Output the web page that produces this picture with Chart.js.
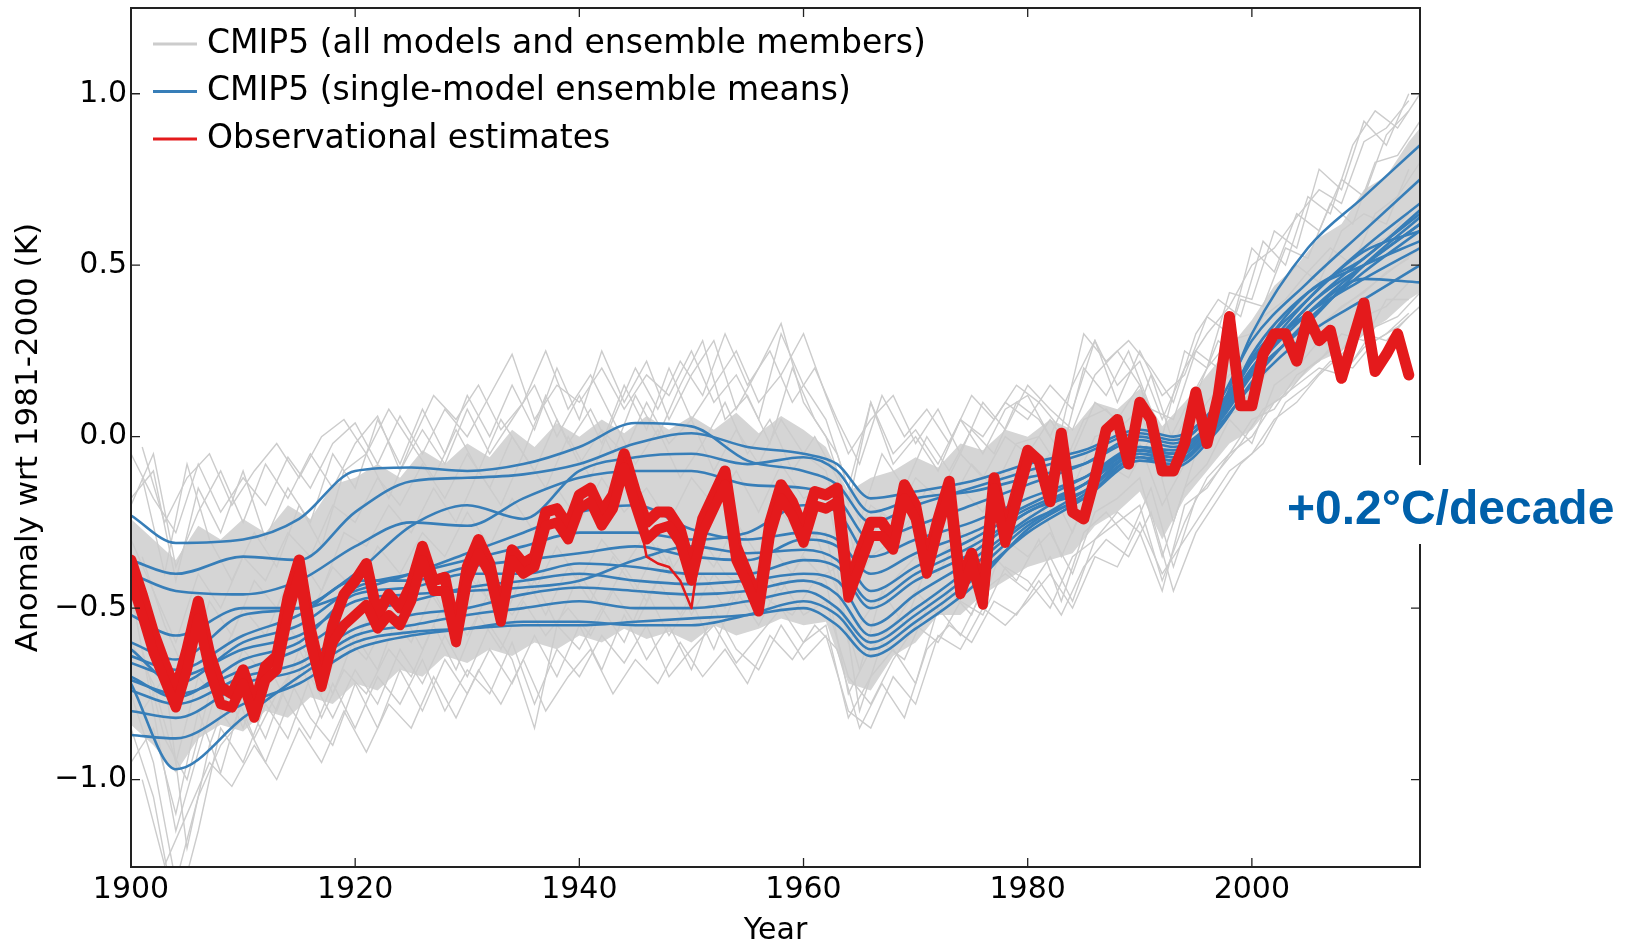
<!DOCTYPE html>
<html>
<head>
<meta charset="utf-8">
<title>CMIP5 models vs observations</title>
<script src="https://cdn.jsdelivr.net/npm/chart.js@4.4.1/dist/chart.umd.min.js"></script>
<style>
  html, body { margin: 0; padding: 0; background: #fff; }
  canvas { display: block; }
</style>
</head>
<body>
<canvas id="anomalyChart" width="1627" height="942"></canvas>
<script>
// observational estimates, annual
const obsYears = [
  1900,1901,1902,1903,1904,1905,1906,1907,1908,1909,
  1910,1911,1912,1913,1914,1915,1916,1917,1918,1919,
  1920,1921,1922,1923,1924,1925,1926,1927,1928,1929,
  1930,1931,1932,1933,1934,1935,1936,1937,1938,1939,
  1940,1941,1942,1943,1944,1945,1946,1947,1948,1949,
  1950,1951,1952,1953,1954,1955,1956,1957,1958,1959,
  1960,1961,1962,1963,1964,1965,1966,1967,1968,1969,
  1970,1971,1972,1973,1974,1975,1976,1977,1978,1979,
  1980,1981,1982,1983,1984,1985,1986,1987,1988,1989,
  1990,1991,1992,1993,1994,1995,1996,1997,1998,1999,
  2000,2001,2002,2003,2004,2005,2006,2007,2008,2009,
  2010,2011,2012,2013,2014
];
const obsMain = [
  -0.36,-0.46,-0.57,-0.66,-0.74,-0.62,-0.48,-0.63,-0.73,-0.75,
  -0.68,-0.78,-0.67,-0.64,-0.47,-0.36,-0.56,-0.70,-0.55,-0.46,
  -0.42,-0.37,-0.52,-0.46,-0.50,-0.43,-0.32,-0.42,-0.41,-0.57,
  -0.38,-0.30,-0.37,-0.52,-0.33,-0.37,-0.35,-0.22,-0.21,-0.26,
  -0.17,-0.15,-0.22,-0.17,-0.05,-0.16,-0.25,-0.22,-0.22,-0.27,
  -0.39,-0.24,-0.17,-0.10,-0.32,-0.40,-0.48,-0.25,-0.14,-0.19,
  -0.27,-0.16,-0.17,-0.15,-0.44,-0.34,-0.25,-0.25,-0.30,-0.14,
  -0.20,-0.37,-0.24,-0.13,-0.43,-0.34,-0.46,-0.12,-0.28,-0.16,
  -0.04,-0.07,-0.19,0.01,-0.22,-0.24,-0.12,0.02,0.05,-0.08,
  0.10,0.05,-0.10,-0.10,-0.02,0.13,-0.02,0.12,0.35,0.09,
  0.09,0.24,0.30,0.30,0.22,0.35,0.28,0.31,0.17,0.28,
  0.39,0.19,0.24,0.30,0.18
];
const obsLowYears = [
  1900,1901,1902,1903,1904,1905,1906,1907,1908,1909,
  1910,1911,1912,1913,1914,1915,1916,1917,1918,1919,
  1920,1921,1922,1923,1924,1925,1926,1927,1928,1929,
  1930,1931,1932,1933,1934,1935,1936,1937,1938,1939,
  1940,1941,1942,1943,1944,1945,1946,1947,1948,1949,
  1950,1951,1952,1953,1954,1955,1956,1957,1958,1959,
  1960,1961,1962,1963,1964,1965,1966,1967,1968,1969,
  1970,1971,1972,1973,1974,1975,1976,1977,1978,1979,
  1980
];
const obsLow = [
  -0.42,-0.52,-0.63,-0.71,-0.79,-0.68,-0.53,-0.68,-0.78,-0.79,
  -0.72,-0.82,-0.71,-0.68,-0.52,-0.40,-0.60,-0.73,-0.60,-0.55,
  -0.52,-0.49,-0.56,-0.52,-0.55,-0.48,-0.36,-0.45,-0.45,-0.60,
  -0.42,-0.34,-0.40,-0.54,-0.36,-0.40,-0.38,-0.26,-0.25,-0.30,
  -0.21,-0.19,-0.26,-0.21,-0.09,-0.20,-0.30,-0.27,-0.26,-0.31,
  -0.42,-0.28,-0.21,-0.14,-0.36,-0.43,-0.51,-0.29,-0.18,-0.23,
  -0.31,-0.20,-0.21,-0.19,-0.47,-0.38,-0.29,-0.29,-0.33,-0.18,
  -0.24,-0.40,-0.27,-0.16,-0.46,-0.37,-0.49,-0.15,-0.31,-0.19,
  -0.07
];
const obsSplitYears = [1944,1945,1946,1947,1948,1949,1950,1951];
const obsSplit = [-0.06,-0.18,-0.35,-0.37,-0.38,-0.42,-0.50,-0.27];

// single-model ensemble means, read at these years
const meanYears = [1900,1904,1910,1915,1920,1925,1930,1935,1940,1945,1950,1955,1960,1963,1966,1970,1975,1980,1985,1990,1993,1997,2000,2005,2010,2015];
const modelMeans = [
  [-0.23,-0.31,-0.30,-0.24,-0.10,-0.09,-0.10,-0.08,-0.03,0.04,0.03,-0.07,-0.10,-0.14,-0.25,-0.20,-0.15,-0.10,-0.05,0.01,-0.01,0.08,0.22,0.36,0.46,0.55],
  [-0.36,-0.40,-0.35,-0.36,-0.22,-0.13,-0.12,-0.11,-0.08,-0.02,0.01,-0.03,-0.05,-0.08,-0.18,-0.16,-0.13,-0.08,-0.04,0.02,0.00,0.10,0.28,0.45,0.60,0.75],
  [-0.60,-0.65,-0.52,-0.50,-0.40,-0.26,-0.20,-0.24,-0.10,-0.06,-0.05,-0.08,-0.06,-0.10,-0.22,-0.18,-0.16,-0.12,-0.08,-0.01,-0.03,0.06,0.18,0.33,0.50,0.64],
  [-0.62,-0.72,-0.60,-0.55,-0.44,-0.40,-0.36,-0.32,-0.28,-0.28,-0.30,-0.28,-0.20,-0.22,-0.35,-0.30,-0.25,-0.18,-0.12,-0.04,-0.06,0.05,0.20,0.40,0.55,0.68],
  [-0.64,-0.68,-0.58,-0.52,-0.42,-0.42,-0.38,-0.36,-0.34,-0.32,-0.35,-0.36,-0.30,-0.32,-0.45,-0.38,-0.30,-0.21,-0.14,-0.05,-0.07,0.04,0.18,0.38,0.50,0.62],
  [-0.70,-0.76,-0.65,-0.60,-0.46,-0.44,-0.40,-0.40,-0.37,-0.38,-0.40,-0.40,-0.36,-0.38,-0.50,-0.42,-0.34,-0.22,-0.16,-0.06,-0.09,0.02,0.16,0.34,0.48,0.60],
  [-0.71,-0.75,-0.68,-0.62,-0.52,-0.48,-0.44,-0.42,-0.40,-0.42,-0.43,-0.42,-0.40,-0.42,-0.55,-0.46,-0.36,-0.24,-0.14,-0.04,-0.05,0.06,0.22,0.42,0.52,0.66],
  [-0.74,-0.78,-0.70,-0.66,-0.56,-0.52,-0.50,-0.46,-0.44,-0.45,-0.46,-0.45,-0.42,-0.46,-0.58,-0.50,-0.38,-0.25,-0.18,-0.07,-0.08,0.03,0.15,0.30,0.40,0.50],
  [-0.80,-0.82,-0.72,-0.68,-0.58,-0.55,-0.52,-0.50,-0.48,-0.50,-0.50,-0.48,-0.45,-0.50,-0.60,-0.52,-0.40,-0.26,-0.16,-0.05,-0.06,0.05,0.19,0.36,0.50,0.62],
  [-0.87,-0.88,-0.78,-0.72,-0.62,-0.58,-0.56,-0.54,-0.54,-0.55,-0.55,-0.52,-0.48,-0.52,-0.62,-0.54,-0.42,-0.28,-0.18,-0.06,-0.07,0.04,0.24,0.42,0.50,0.57],
  [-0.72,-0.97,-0.82,-0.70,-0.60,-0.57,-0.56,-0.55,-0.55,-0.54,-0.53,-0.52,-0.50,-0.55,-0.64,-0.56,-0.44,-0.27,-0.17,-0.04,-0.05,0.07,0.30,0.55,0.70,0.85],
  [-0.52,-0.58,-0.50,-0.50,-0.45,-0.40,-0.34,-0.28,-0.22,-0.20,-0.27,-0.30,-0.28,-0.30,-0.40,-0.34,-0.28,-0.20,-0.12,-0.03,-0.05,0.06,0.20,0.38,0.52,0.65],
  [-0.40,-0.45,-0.46,-0.42,-0.32,-0.25,-0.26,-0.18,-0.12,-0.10,-0.10,-0.14,-0.15,-0.18,-0.30,-0.26,-0.20,-0.14,-0.08,0.00,-0.02,0.09,0.22,0.36,0.46,0.45],
  [-0.66,-0.70,-0.62,-0.58,-0.48,-0.46,-0.45,-0.44,-0.42,-0.36,-0.32,-0.34,-0.33,-0.36,-0.48,-0.40,-0.32,-0.22,-0.14,-0.03,-0.04,0.07,0.23,0.40,0.54,0.60]
];

// dense middle of the ensemble members (every second year)
const coreYears = [
  1900,1902,1904,1906,1908,1910,1912,1914,1916,1918,
  1920,1922,1924,1926,1928,1930,1932,1934,1936,1938,
  1940,1942,1944,1946,1948,1950,1952,1954,1956,1958,
  1960,1962,1964,1966,1968,1970,1972,1974,1976,1978,
  1980,1982,1984,1986,1988,1990,1992,1994,1996,1998,
  2000,2002,2004,2006,2008,2010,2012,2014,2015
];
const coreUpper = [
  -0.24,-0.30,-0.36,-0.26,-0.30,-0.24,-0.28,-0.20,-0.24,-0.14,
  -0.12,-0.08,-0.12,-0.04,-0.08,-0.02,-0.06,0.02,-0.03,0.04,
  0.00,0.05,0.01,0.06,0.02,0.06,0.02,0.07,0.01,0.06,
  0.02,-0.03,-0.16,-0.12,-0.10,-0.06,-0.09,-0.02,-0.04,0.02,
  0.00,0.05,0.02,0.10,0.08,0.14,0.03,0.10,0.18,0.26,
  0.34,0.44,0.50,0.58,0.62,0.72,0.76,0.86,0.90
];
const coreLower = [
  -0.84,-0.90,-0.98,-0.88,-0.84,-0.86,-0.80,-0.82,-0.76,-0.78,
  -0.72,-0.74,-0.68,-0.70,-0.64,-0.66,-0.62,-0.64,-0.60,-0.62,
  -0.58,-0.60,-0.56,-0.59,-0.57,-0.60,-0.55,-0.58,-0.56,-0.53,
  -0.55,-0.54,-0.72,-0.74,-0.64,-0.60,-0.52,-0.52,-0.46,-0.42,
  -0.38,-0.36,-0.34,-0.26,-0.22,-0.16,-0.30,-0.18,-0.10,-0.02,
  0.02,0.10,0.16,0.22,0.25,0.30,0.34,0.40,0.42
];

// individual ensemble members
const evenYears = [
  1900,1902,1904,1906,1908,1910,1912,1914,1916,1918,
  1920,1922,1924,1926,1928,1930,1932,1934,1936,1938,
  1940,1942,1944,1946,1948,1950,1952,1954,1956,1958,
  1960,1962,1964,1966,1968,1970,1972,1974,1976,1978,
  1980,1982,1984,1986,1988,1990,1992,1994,1996,1998,
  2000,2002,2004,2006,2008,2010,2012,2014
];
const oddYears = [
  1901,1903,1905,1907,1909,1911,1913,1915,1917,1919,
  1921,1923,1925,1927,1929,1931,1933,1935,1937,1939,
  1941,1943,1945,1947,1949,1951,1953,1955,1957,1959,
  1961,1963,1965,1967,1969,1971,1973,1975,1977,1979,
  1981,1983,1985,1987,1989,1991,1993,1995,1997,1999,
  2001,2003,2005,2007,2009,2011,2013,2015
];
const membersEven = [
  [-0.05,-0.18,-0.28,-0.08,-0.22,-0.12,-0.20,-0.06,-0.15,-0.02,
   0.04,-0.08,0.06,-0.05,0.08,0.00,0.12,0.24,0.05,0.15,
   0.10,0.20,0.08,0.18,0.12,0.25,0.10,0.18,0.05,0.30,
   0.15,0.05,-0.15,0.10,-0.05,0.02,-0.08,0.05,0.00,0.10,
   0.05,0.15,0.08,0.28,0.15,0.22,0.05,0.20,0.30,0.38,
   0.50,0.55,0.64,0.72,0.68,0.86,0.90,0.98],
  [-0.75,-0.95,-1.30,-1.05,-0.90,-0.82,-0.95,-0.78,-0.88,-0.72,
   -0.85,-0.70,-0.78,-0.65,-0.80,-0.68,-0.75,-0.60,-0.78,-0.62,
   -0.70,-0.58,-0.66,-0.55,-0.70,-0.62,-0.55,-0.66,-0.58,-0.50,
   -0.60,-0.55,-0.82,-0.70,-0.62,-0.72,-0.50,-0.58,-0.45,-0.40,
   -0.45,-0.35,-0.48,-0.30,-0.25,-0.20,-0.42,-0.25,-0.12,-0.05,
   0.00,0.10,0.15,0.20,0.18,0.26,0.30,0.36],
  [-0.30,-0.45,-0.60,-0.40,-0.50,-0.35,-0.42,-0.28,-0.35,-0.20,
   -0.25,-0.12,-0.20,-0.08,-0.18,-0.05,-0.15,0.00,-0.10,0.05,
   -0.08,0.02,-0.05,0.10,-0.02,0.05,-0.10,0.02,-0.08,0.05,
   -0.05,-0.10,-0.35,-0.20,-0.25,-0.12,-0.18,-0.05,-0.12,0.00,
   -0.05,0.05,-0.05,0.10,0.05,0.15,-0.05,0.08,0.20,0.28,
   0.30,0.42,0.50,0.45,0.60,0.65,0.62,0.78],
  [-0.60,-0.72,-0.95,-0.70,-0.78,-0.62,-0.70,-0.55,-0.65,-0.52,
   -0.60,-0.48,-0.55,-0.42,-0.52,-0.40,-0.48,-0.35,-0.45,-0.32,
   -0.42,-0.30,-0.38,-0.28,-0.40,-0.30,-0.38,-0.25,-0.35,-0.22,
   -0.30,-0.28,-0.60,-0.50,-0.42,-0.35,-0.40,-0.28,-0.32,-0.20,
   -0.25,-0.15,-0.28,-0.12,-0.10,-0.02,-0.20,-0.08,0.02,0.10,
   0.12,0.22,0.28,0.32,0.38,0.42,0.48,0.52],
  [-0.18,-0.10,-0.42,-0.15,-0.28,-0.10,-0.30,-0.15,-0.25,-0.05,
   -0.15,0.05,-0.08,0.08,-0.05,0.12,0.00,0.15,0.02,0.20,
   0.05,0.25,0.10,0.22,0.05,0.18,0.28,0.08,0.20,0.33,
   0.10,0.00,-0.20,0.10,-0.08,0.00,-0.10,0.05,-0.05,0.08,
   0.12,0.00,0.15,0.28,0.10,0.25,0.12,0.18,0.35,0.30,
   0.55,0.48,0.65,0.60,0.75,0.70,0.88,0.95],
  [-0.45,-0.80,-1.15,-0.92,-0.70,-0.85,-0.65,-0.78,-0.60,-0.75,
   -0.58,-0.68,-0.50,-0.62,-0.48,-0.58,-0.45,-0.52,-0.42,-0.55,
   -0.40,-0.50,-0.38,-0.48,-0.35,-0.52,-0.40,-0.48,-0.38,-0.45,
   -0.35,-0.42,-0.75,-0.62,-0.55,-0.45,-0.52,-0.38,-0.48,-0.30,
   -0.35,-0.28,-0.40,-0.22,-0.18,-0.12,-0.35,-0.15,-0.08,0.05,
   -0.02,0.15,0.20,0.28,0.25,0.35,0.38,0.45],
  [-0.50,-0.58,-0.80,-0.55,-0.65,-0.50,-0.58,-0.42,-0.52,-0.38,
   -0.45,-0.32,-0.40,-0.28,-0.35,-0.22,-0.32,-0.18,-0.28,-0.15,
   -0.25,-0.12,-0.22,-0.15,-0.25,-0.12,-0.20,-0.10,-0.22,-0.08,
   -0.18,-0.15,-0.48,-0.35,-0.30,-0.22,-0.28,-0.15,-0.22,-0.10,
   -0.12,-0.05,-0.15,0.00,0.02,0.08,-0.12,0.00,0.10,0.18,
   0.22,0.32,0.38,0.45,0.48,0.55,0.58,0.65],
  [-0.85,-1.05,-1.40,-1.15,-0.85,-0.95,-0.78,-0.88,-0.70,-0.82,
   -0.68,-0.78,-0.62,-0.72,-0.58,-0.70,-0.55,-0.65,-0.85,-0.55,
   -0.62,-0.50,-0.60,-0.45,-0.58,-0.48,-0.62,-0.45,-0.55,-0.42,
   -0.52,-0.48,-0.70,-0.78,-0.65,-0.55,-0.60,-0.48,-0.52,-0.38,
   -0.42,-0.50,-0.35,-0.30,-0.22,-0.28,-0.45,-0.20,-0.15,-0.05,
   0.05,0.08,0.18,0.22,0.30,0.28,0.40,0.40],
  [-0.20,-0.05,-0.38,-0.22,-0.10,-0.25,-0.08,-0.18,-0.05,-0.15,
   -0.02,0.06,-0.10,0.02,-0.08,0.08,-0.05,0.05,0.15,0.00,
   0.12,-0.02,0.15,0.02,0.20,0.05,0.15,0.25,0.10,0.18,
   0.30,0.12,-0.05,0.05,0.12,-0.02,0.08,-0.05,0.10,0.02,
   0.15,0.08,0.02,0.18,0.25,0.15,0.00,0.25,0.20,0.42,
   0.40,0.60,0.55,0.78,0.72,0.92,0.85,1.00],
  [-0.95,-0.85,-1.10,-0.80,-0.98,-0.75,-0.88,-0.70,-0.82,-0.90,
   -0.72,-0.85,-0.68,-0.80,-0.65,-0.75,-0.62,-0.72,-0.58,-0.70,
   -0.55,-0.68,-0.52,-0.65,-0.55,-0.68,-0.50,-0.62,-0.68,-0.55,
   -0.65,-0.58,-0.80,-0.85,-0.70,-0.78,-0.58,-0.62,-0.50,-0.55,
   -0.48,-0.40,-0.50,-0.35,-0.38,-0.25,-0.40,-0.30,-0.20,-0.10,
   -0.05,0.05,0.10,0.18,0.24,0.30,0.28,0.35]
];
const membersOdd = [
  [-0.12,-0.40,-0.08,-0.30,-0.42,-0.28,-0.38,-0.20,-0.32,-0.10,
   -0.05,-0.18,-0.02,-0.12,0.02,-0.10,0.05,-0.05,0.12,-0.02,
   0.08,-0.05,0.12,0.00,0.15,0.28,0.05,0.12,-0.02,0.20,
   0.05,-0.05,-0.25,-0.05,-0.15,0.00,-0.10,0.02,-0.05,0.10,
   0.05,-0.05,0.20,0.12,0.25,0.08,0.05,0.25,0.20,0.40,
   0.38,0.55,0.52,0.68,0.62,0.80,0.82,0.92],
  [-0.62,-0.88,-1.00,-0.75,-0.85,-0.70,-0.80,-0.62,-0.75,-0.58,
   -0.65,-0.52,-0.60,-0.45,-0.58,-0.42,-0.55,-0.40,-0.52,-0.38,
   -0.48,-0.35,-0.45,-0.32,-0.42,-0.30,-0.40,-0.45,-0.32,-0.40,
   -0.28,-0.45,-0.68,-0.45,-0.55,-0.38,-0.32,-0.40,-0.25,-0.30,
   -0.18,-0.35,-0.20,-0.08,-0.12,0.00,-0.25,-0.05,0.05,0.08,
   0.18,0.25,0.30,0.35,0.40,0.45,0.50,0.55],
  [-0.35,-0.55,-0.70,-0.48,-0.58,-0.42,-0.50,-0.35,-0.45,-0.28,
   -0.32,-0.20,-0.28,-0.15,-0.25,-0.10,-0.20,-0.05,-0.15,0.00,
   -0.12,0.05,-0.08,0.02,-0.12,-0.02,0.10,-0.05,0.05,-0.10,
   0.00,-0.12,-0.40,-0.22,-0.28,-0.15,-0.20,-0.08,-0.15,-0.02,
   0.00,-0.10,0.05,0.08,0.00,0.18,-0.02,0.12,0.28,0.22,
   0.35,0.40,0.48,0.55,0.50,0.65,0.70,0.80],
  [-0.80,-0.70,-1.20,-0.90,-0.72,-0.88,-0.75,-0.65,-0.82,-0.68,
   -0.75,-0.62,-0.70,-0.55,-0.68,-0.52,-0.62,-0.48,-0.58,-0.50,
   -0.58,-0.45,-0.55,-0.42,-0.52,-0.40,-0.50,-0.38,-0.48,-0.52,
   -0.42,-0.38,-0.80,-0.60,-0.65,-0.50,-0.45,-0.52,-0.35,-0.42,
   -0.30,-0.48,-0.28,-0.22,-0.30,-0.15,-0.38,-0.18,-0.10,-0.02,
   0.08,0.12,0.20,0.25,0.22,0.32,0.35,0.42],
  [-0.03,-0.25,-0.12,-0.05,-0.20,-0.10,-0.02,-0.12,0.00,0.05,
   -0.05,0.08,-0.02,0.12,0.05,0.15,0.02,0.10,0.25,0.08,
   0.18,0.05,0.20,0.08,0.22,0.12,0.30,0.15,0.25,0.10,
   0.20,0.05,-0.08,0.12,0.00,0.08,-0.02,0.12,0.05,0.15,
   0.10,0.02,0.30,0.22,0.28,0.20,0.10,0.30,0.40,0.35,
   0.57,0.50,0.70,0.65,0.85,0.95,0.90,1.00],
  [-1.00,-1.25,-1.10,-0.95,-1.02,-0.90,-1.00,-0.85,-0.95,-0.80,
   -0.92,-0.78,-0.85,-0.70,-0.82,-0.68,-0.78,-0.65,-0.80,-0.70,
   -0.62,-0.75,-0.65,-0.72,-0.60,-0.70,-0.62,-0.72,-0.58,-0.65,
   -0.55,-0.62,-0.85,-0.72,-0.82,-0.62,-0.55,-0.60,-0.48,-0.52,
   -0.42,-0.52,-0.38,-0.30,-0.35,-0.22,-0.45,-0.28,-0.18,-0.08,
   -0.02,0.10,0.15,0.22,0.20,0.28,0.32,0.38]
];

const grayColor = '#cccccc';
const blueColor = '#377eb8';
const redColor = '#e41a1c';

const legendItems = [
  { text: 'CMIP5 (all models and ensemble members)', color: grayColor },
  { text: 'CMIP5 (single-model ensemble means)', color: blueColor },
  { text: 'Observational estimates', color: redColor }
];
const trendLabel = '+0.2\u00B0C/decade';

const toPoints = (xs, ys) => xs.map((x, i) => ({ x: x, y: ys[i] }));

const datasets = [];
datasets.push({
  data: toPoints(coreYears, coreUpper), fill: '+1',
  backgroundColor: 'rgb(213,213,213)', borderColor: 'rgba(0,0,0,0)',
  borderWidth: 1, pointRadius: 0, order: 4
});
datasets.push({
  data: toPoints(coreYears, coreLower), fill: false,
  borderColor: 'rgba(0,0,0,0)', borderWidth: 1, pointRadius: 0, order: 4
});
membersEven.forEach(m => {
  datasets.push({ data: toPoints(evenYears, m), borderColor: grayColor, borderWidth: 1.4, pointRadius: 0, fill: false, order: 3 });
});
membersOdd.forEach(m => {
  datasets.push({ data: toPoints(oddYears, m), borderColor: grayColor, borderWidth: 1.4, pointRadius: 0, fill: false, order: 3 });
});
modelMeans.forEach(m => {
  datasets.push({ data: toPoints(meanYears, m), borderColor: blueColor, borderWidth: 2.6, pointRadius: 0, fill: false, cubicInterpolationMode: 'monotone', order: 2 });
});
datasets.push({ data: toPoints(obsLowYears, obsLow), borderColor: redColor, borderWidth: 10, pointRadius: 0, fill: false, borderJoinStyle: 'round', borderCapStyle: 'round', order: 1 });
datasets.push({ data: toPoints(obsSplitYears, obsSplit), borderColor: redColor, borderWidth: 2.5, pointRadius: 0, fill: false, borderJoinStyle: 'round', order: 1 });
datasets.push({ data: toPoints(obsYears, obsMain), borderColor: redColor, borderWidth: 11, pointRadius: 0, fill: false, borderJoinStyle: 'round', borderCapStyle: 'round', order: 1 });

const framePlugin = {
  id: 'frame',
  afterDraw(chart) {
    const { ctx, chartArea: a, scales } = chart;
    ctx.save();
    ctx.strokeStyle = '#222';
    ctx.lineWidth = 1.3;
    ctx.beginPath();
    scales.x.ticks.forEach(t => {
      const px = scales.x.getPixelForValue(t.value);
      ctx.moveTo(px, a.bottom); ctx.lineTo(px, a.bottom - 9);
      ctx.moveTo(px, a.top); ctx.lineTo(px, a.top + 9);
    });
    scales.y.ticks.forEach(t => {
      const py = scales.y.getPixelForValue(t.value);
      ctx.moveTo(a.left, py); ctx.lineTo(a.left + 9, py);
      ctx.moveTo(a.right, py); ctx.lineTo(a.right - 9, py);
    });
    ctx.stroke();
    ctx.lineWidth = 2;
    ctx.strokeRect(a.left, a.top, a.right - a.left, a.bottom - a.top);

    // legend inside the axes, top left
    ctx.font = '33px "DejaVu Sans"';
    ctx.textBaseline = 'middle';
    ctx.textAlign = 'left';
    legendItems.forEach((item, i) => {
      const y = a.top + 36 + i * 47.5;
      ctx.strokeStyle = item.color;
      ctx.lineWidth = 3;
      ctx.beginPath();
      ctx.moveTo(a.left + 22, y);
      ctx.lineTo(a.left + 66, y);
      ctx.stroke();
      ctx.fillStyle = '#000';
      ctx.fillText(item.text, a.left + 76, y);
    });

    // trend label over the right spine
    ctx.fillStyle = '#fff';
    ctx.fillRect(a.right - 145, 465, 360, 79);
    ctx.font = 'bold 48px "Liberation Sans", Arial, sans-serif';
    ctx.fillStyle = '#0060aa';
    ctx.textBaseline = 'alphabetic';
    ctx.fillText(trendLabel, a.right - 133, 524);
    ctx.restore();
  }
};

const ctx = document.getElementById('anomalyChart').getContext('2d');
const anomalyChart = new Chart(ctx, {
  type: 'line',
  data: { datasets: datasets },
  options: {
    responsive: false,
    devicePixelRatio: 1,
    animation: false,
    events: [],
    layout: { padding: { left: 0, top: 8, right: 207, bottom: 0 } },
    plugins: {
      legend: { display: false },
      tooltip: { enabled: false }
    },
    scales: {
      x: {
        type: 'linear',
        min: 1900,
        max: 2015,
        grid: { display: false, drawTicks: false },
        border: { display: false },
        ticks: {
          stepSize: 20, includeBounds: false, padding: 5, color: '#000',
          maxRotation: 0, autoSkip: false,
          font: { family: 'DejaVu Sans', size: 30 },
          callback: v => String(v)
        },
        title: {
          display: true, text: 'Year', color: '#000',
          font: { family: 'DejaVu Sans', size: 30, lineHeight: 1 },
          padding: { top: 0, bottom: -4 }
        },
        afterFit: s => { s.height = 75; s.paddingLeft = 0; s.paddingRight = 0; }
      },
      y: {
        type: 'linear',
        min: -1.255,
        max: 1.25,
        grid: { display: false, drawTicks: false },
        border: { display: false },
        ticks: {
          stepSize: 0.5, includeBounds: false, padding: 4, color: '#000',
          font: { family: 'DejaVu Sans', size: 30 },
          callback: v => (Math.abs(v) < 1e-9 ? '0.0' : v.toFixed(1).replace('-', '\u2212'))
        },
        title: {
          display: true, text: 'Anomaly wrt 1981-2000 (K)', color: '#000',
          font: { family: 'DejaVu Sans', size: 31, lineHeight: 1 },
          padding: { top: 13, bottom: 0 }
        },
        afterFit: s => { s.width = 131; s.paddingTop = 0; s.paddingBottom = 0; }
      }
    }
  },
  plugins: [framePlugin]
});
</script>
</body>
</html>
